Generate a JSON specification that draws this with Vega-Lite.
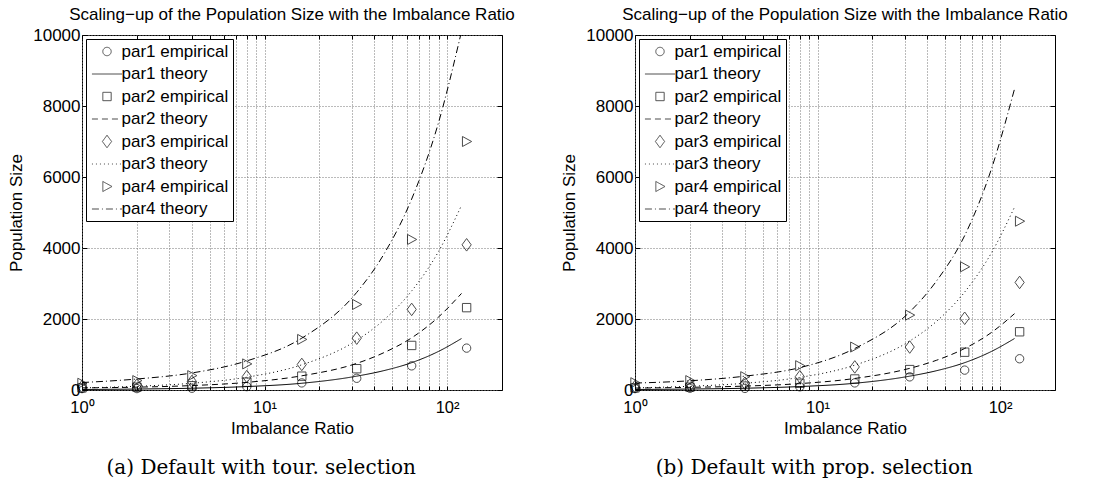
{
  "$schema": "https://vega.github.io/schema/vega-lite/v6.json",
  "background": "white",
  "padding": {"left": 7, "top": 5, "right": 0, "bottom": 0},
  "datasets": {
    "pts": [
      {"panel":"a","series":"par1 empirical","ratio":1,"pop":40},
      {"panel":"a","series":"par1 empirical","ratio":2,"pop":40},
      {"panel":"a","series":"par1 empirical","ratio":4,"pop":50},
      {"panel":"a","series":"par1 empirical","ratio":8,"pop":95},
      {"panel":"a","series":"par1 empirical","ratio":16,"pop":200},
      {"panel":"a","series":"par1 empirical","ratio":32,"pop":330},
      {"panel":"a","series":"par1 empirical","ratio":64,"pop":680},
      {"panel":"a","series":"par1 empirical","ratio":128,"pop":1180},
      {"panel":"a","series":"par2 empirical","ratio":1,"pop":60},
      {"panel":"a","series":"par2 empirical","ratio":2,"pop":80},
      {"panel":"a","series":"par2 empirical","ratio":4,"pop":120},
      {"panel":"a","series":"par2 empirical","ratio":8,"pop":220},
      {"panel":"a","series":"par2 empirical","ratio":16,"pop":390},
      {"panel":"a","series":"par2 empirical","ratio":32,"pop":600},
      {"panel":"a","series":"par2 empirical","ratio":64,"pop":1255},
      {"panel":"a","series":"par2 empirical","ratio":128,"pop":2320},
      {"panel":"a","series":"par3 empirical","ratio":1,"pop":95},
      {"panel":"a","series":"par3 empirical","ratio":2,"pop":140},
      {"panel":"a","series":"par3 empirical","ratio":4,"pop":240},
      {"panel":"a","series":"par3 empirical","ratio":8,"pop":380},
      {"panel":"a","series":"par3 empirical","ratio":16,"pop":720},
      {"panel":"a","series":"par3 empirical","ratio":32,"pop":1460},
      {"panel":"a","series":"par3 empirical","ratio":64,"pop":2270},
      {"panel":"a","series":"par3 empirical","ratio":128,"pop":4090},
      {"panel":"a","series":"par4 empirical","ratio":1,"pop":190},
      {"panel":"a","series":"par4 empirical","ratio":2,"pop":265},
      {"panel":"a","series":"par4 empirical","ratio":4,"pop":405},
      {"panel":"a","series":"par4 empirical","ratio":8,"pop":735},
      {"panel":"a","series":"par4 empirical","ratio":16,"pop":1425},
      {"panel":"a","series":"par4 empirical","ratio":32,"pop":2410},
      {"panel":"a","series":"par4 empirical","ratio":64,"pop":4240},
      {"panel":"a","series":"par4 empirical","ratio":128,"pop":7000},
      {"panel":"b","series":"par1 empirical","ratio":1,"pop":40},
      {"panel":"b","series":"par1 empirical","ratio":2,"pop":50},
      {"panel":"b","series":"par1 empirical","ratio":4,"pop":45},
      {"panel":"b","series":"par1 empirical","ratio":8,"pop":90},
      {"panel":"b","series":"par1 empirical","ratio":16,"pop":200},
      {"panel":"b","series":"par1 empirical","ratio":32,"pop":370},
      {"panel":"b","series":"par1 empirical","ratio":64,"pop":560},
      {"panel":"b","series":"par1 empirical","ratio":128,"pop":880},
      {"panel":"b","series":"par2 empirical","ratio":1,"pop":60},
      {"panel":"b","series":"par2 empirical","ratio":2,"pop":80},
      {"panel":"b","series":"par2 empirical","ratio":4,"pop":110},
      {"panel":"b","series":"par2 empirical","ratio":8,"pop":190},
      {"panel":"b","series":"par2 empirical","ratio":16,"pop":310},
      {"panel":"b","series":"par2 empirical","ratio":32,"pop":575},
      {"panel":"b","series":"par2 empirical","ratio":64,"pop":1065},
      {"panel":"b","series":"par2 empirical","ratio":128,"pop":1640},
      {"panel":"b","series":"par3 empirical","ratio":1,"pop":95},
      {"panel":"b","series":"par3 empirical","ratio":2,"pop":140},
      {"panel":"b","series":"par3 empirical","ratio":4,"pop":190},
      {"panel":"b","series":"par3 empirical","ratio":8,"pop":375},
      {"panel":"b","series":"par3 empirical","ratio":16,"pop":650},
      {"panel":"b","series":"par3 empirical","ratio":32,"pop":1210},
      {"panel":"b","series":"par3 empirical","ratio":64,"pop":2020},
      {"panel":"b","series":"par3 empirical","ratio":128,"pop":3030},
      {"panel":"b","series":"par4 empirical","ratio":1,"pop":205},
      {"panel":"b","series":"par4 empirical","ratio":2,"pop":265},
      {"panel":"b","series":"par4 empirical","ratio":4,"pop":375},
      {"panel":"b","series":"par4 empirical","ratio":8,"pop":685},
      {"panel":"b","series":"par4 empirical","ratio":16,"pop":1210},
      {"panel":"b","series":"par4 empirical","ratio":32,"pop":2110},
      {"panel":"b","series":"par4 empirical","ratio":64,"pop":3470},
      {"panel":"b","series":"par4 empirical","ratio":128,"pop":4755}
    ],
    "theory": [
      {"panel":"a","series":"par1 theory","ratio":1,"pop":15},
      {"panel":"a","series":"par1 theory","ratio":2,"pop":27},
      {"panel":"a","series":"par1 theory","ratio":4,"pop":50},
      {"panel":"a","series":"par1 theory","ratio":8,"pop":97},
      {"panel":"a","series":"par1 theory","ratio":16,"pop":190},
      {"panel":"a","series":"par1 theory","ratio":32,"pop":390},
      {"panel":"a","series":"par1 theory","ratio":45,"pop":545},
      {"panel":"a","series":"par1 theory","ratio":64,"pop":770},
      {"panel":"a","series":"par1 theory","ratio":90,"pop":1090},
      {"panel":"a","series":"par1 theory","ratio":120,"pop":1450},
      {"panel":"a","series":"par2 theory","ratio":1,"pop":60},
      {"panel":"a","series":"par2 theory","ratio":2,"pop":80},
      {"panel":"a","series":"par2 theory","ratio":4,"pop":125},
      {"panel":"a","series":"par2 theory","ratio":8,"pop":215},
      {"panel":"a","series":"par2 theory","ratio":16,"pop":400},
      {"panel":"a","series":"par2 theory","ratio":32,"pop":750},
      {"panel":"a","series":"par2 theory","ratio":45,"pop":1050},
      {"panel":"a","series":"par2 theory","ratio":64,"pop":1470},
      {"panel":"a","series":"par2 theory","ratio":90,"pop":2060},
      {"panel":"a","series":"par2 theory","ratio":120,"pop":2720},
      {"panel":"a","series":"par3 theory","ratio":1,"pop":60},
      {"panel":"a","series":"par3 theory","ratio":2,"pop":105},
      {"panel":"a","series":"par3 theory","ratio":4,"pop":190},
      {"panel":"a","series":"par3 theory","ratio":8,"pop":360},
      {"panel":"a","series":"par3 theory","ratio":16,"pop":710},
      {"panel":"a","series":"par3 theory","ratio":32,"pop":1400},
      {"panel":"a","series":"par3 theory","ratio":45,"pop":1970},
      {"panel":"a","series":"par3 theory","ratio":64,"pop":2790},
      {"panel":"a","series":"par3 theory","ratio":90,"pop":3910},
      {"panel":"a","series":"par3 theory","ratio":120,"pop":5200},
      {"panel":"a","series":"par4 theory","ratio":1,"pop":210},
      {"panel":"a","series":"par4 theory","ratio":2,"pop":310},
      {"panel":"a","series":"par4 theory","ratio":4,"pop":480},
      {"panel":"a","series":"par4 theory","ratio":8,"pop":820},
      {"panel":"a","series":"par4 theory","ratio":16,"pop":1460},
      {"panel":"a","series":"par4 theory","ratio":32,"pop":2750},
      {"panel":"a","series":"par4 theory","ratio":45,"pop":3820},
      {"panel":"a","series":"par4 theory","ratio":64,"pop":5380},
      {"panel":"a","series":"par4 theory","ratio":90,"pop":7550},
      {"panel":"a","series":"par4 theory","ratio":120,"pop":10100},
      {"panel":"b","series":"par1 theory","ratio":1,"pop":15},
      {"panel":"b","series":"par1 theory","ratio":2,"pop":27},
      {"panel":"b","series":"par1 theory","ratio":4,"pop":50},
      {"panel":"b","series":"par1 theory","ratio":8,"pop":97},
      {"panel":"b","series":"par1 theory","ratio":16,"pop":190},
      {"panel":"b","series":"par1 theory","ratio":32,"pop":390},
      {"panel":"b","series":"par1 theory","ratio":45,"pop":545},
      {"panel":"b","series":"par1 theory","ratio":64,"pop":770},
      {"panel":"b","series":"par1 theory","ratio":90,"pop":1090},
      {"panel":"b","series":"par1 theory","ratio":120,"pop":1450},
      {"panel":"b","series":"par2 theory","ratio":1,"pop":55},
      {"panel":"b","series":"par2 theory","ratio":2,"pop":75},
      {"panel":"b","series":"par2 theory","ratio":4,"pop":110},
      {"panel":"b","series":"par2 theory","ratio":8,"pop":180},
      {"panel":"b","series":"par2 theory","ratio":16,"pop":325},
      {"panel":"b","series":"par2 theory","ratio":32,"pop":610},
      {"panel":"b","series":"par2 theory","ratio":45,"pop":840},
      {"panel":"b","series":"par2 theory","ratio":64,"pop":1170},
      {"panel":"b","series":"par2 theory","ratio":90,"pop":1625},
      {"panel":"b","series":"par2 theory","ratio":120,"pop":2150},
      {"panel":"b","series":"par3 theory","ratio":1,"pop":60},
      {"panel":"b","series":"par3 theory","ratio":2,"pop":105},
      {"panel":"b","series":"par3 theory","ratio":4,"pop":190},
      {"panel":"b","series":"par3 theory","ratio":8,"pop":355},
      {"panel":"b","series":"par3 theory","ratio":16,"pop":700},
      {"panel":"b","series":"par3 theory","ratio":32,"pop":1380},
      {"panel":"b","series":"par3 theory","ratio":45,"pop":1940},
      {"panel":"b","series":"par3 theory","ratio":64,"pop":2760},
      {"panel":"b","series":"par3 theory","ratio":90,"pop":3875},
      {"panel":"b","series":"par3 theory","ratio":120,"pop":5150},
      {"panel":"b","series":"par4 theory","ratio":1,"pop":195},
      {"panel":"b","series":"par4 theory","ratio":2,"pop":260},
      {"panel":"b","series":"par4 theory","ratio":4,"pop":390},
      {"panel":"b","series":"par4 theory","ratio":8,"pop":630},
      {"panel":"b","series":"par4 theory","ratio":16,"pop":1170},
      {"panel":"b","series":"par4 theory","ratio":32,"pop":2200},
      {"panel":"b","series":"par4 theory","ratio":45,"pop":3080},
      {"panel":"b","series":"par4 theory","ratio":64,"pop":4350},
      {"panel":"b","series":"par4 theory","ratio":90,"pop":6250},
      {"panel":"b","series":"par4 theory","ratio":120,"pop":8480}
    ]
  },
  "spacing": 44,
  "resolve": {
    "scale": {"shape": "independent", "strokeDash": "independent"},
    "legend": {"shape": "independent", "strokeDash": "independent"}
  },
  "hconcat": [
    {
      "title": {"text": "(a) Default with tour. selection", "orient": "bottom", "font": "DejaVu Serif", "fontSize": 20, "fontWeight": "normal", "offset": 21, "anchor": "middle"},
      "resolve": {
        "scale": {"shape": "independent", "strokeDash": "independent"},
        "legend": {"shape": "independent", "strokeDash": "independent"}
      },
      "vconcat": [
        {
          "width": 420,
          "height": 355,
          "title": {"text": "Scaling−up of the Population Size with the Imbalance Ratio", "frame": "group", "anchor": "middle", "offset": 2},
          "resolve": {"axis": {"x": "independent", "y": "independent"}},
          "layer": [
            {
              "data": {"name": "theory"},
              "transform": [{"filter": "datum.panel == 'a'"}],
              "mark": {"type": "line", "color": "black", "strokeWidth": 1, "interpolate": "monotone", "clip": true},
              "encoding": {
                "x": {"field": "ratio", "type": "quantitative", "scale": {"type": "log", "domain": [1, 200], "nice": false},
                  "axis": {"orient": "bottom", "values": [1,2,3,4,5,6,7,8,9,10,20,30,40,50,60,70,80,90,100], "labelExpr": "datum.value == 1 ? '10⁰' : datum.value == 10 ? '10¹' : datum.value == 100 ? '10²' : ''", "labelFlush": false, "grid": false, "tickSize": -4, "labelPadding": 13, "title": "Imbalance Ratio", "titlePadding": 5, "labelOverlap": false}},
                "y": {"field": "pop", "type": "quantitative", "scale": {"domain": [0, 10000], "nice": false},
                  "axis": {"orient": "left", "values": [0,2000,4000,6000,8000,10000], "format": "d", "labelFlush": false, "labelFontSize": 17, "grid": true, "tickSize": -5, "labelPadding": 7, "title": "Population Size", "titlePadding": 7}},
                "strokeDash": {"field": "series", "type": "nominal",
                  "scale": {"domain": ["par1 empirical","par1 theory","par2 empirical","par2 theory","par3 empirical","par3 theory","par4 empirical","par4 theory"],
                    "range": [[1,0],[1,0],[1,0],[6,4],[1,0],[1,3],[1,0],[7,3,1,3]]},
                  "legend": {"title": null}}
              }
            },
            {
              "data": {"name": "pts"},
              "transform": [{"filter": "datum.panel == 'a'"}],
              "mark": {"type": "point", "filled": false, "color": "black", "strokeWidth": 1, "size": 70},
              "encoding": {
                "x": {"field": "ratio", "type": "quantitative",
                  "axis": {"orient": "top", "values": [1,2,3,4,5,6,7,8,9,10,20,30,40,50,60,70,80,90,100], "labels": false, "grid": true, "tickSize": -4, "title": null}},
                "y": {"field": "pop", "type": "quantitative",
                  "axis": {"orient": "right", "values": [0,2000,4000,6000,8000,10000], "labels": false, "grid": false, "tickSize": -5, "title": null}},
                "shape": {"field": "series", "type": "nominal",
                  "scale": {"domain": ["par1 empirical","par1 theory","par2 empirical","par2 theory","par3 empirical","par3 theory","par4 empirical","par4 theory"],
                    "range": ["circle","M-3.6,0H3.6","square","M-3.6,0H3.6","M0,-1.5L1.1,0L0,1.5L-1.1,0Z","M-3.6,0H3.6","M-1,-1.2L1.2,0L-1,1.2Z","M-3.6,0H3.6"]},
                  "legend": {"title": null}}
              }
            }
          ]
        }
      ]
    },
    {
      "title": {"text": "(b) Default with prop. selection", "orient": "bottom", "font": "DejaVu Serif", "fontSize": 20, "fontWeight": "normal", "offset": 21, "anchor": "middle"},
      "resolve": {
        "scale": {"shape": "independent", "strokeDash": "independent"},
        "legend": {"shape": "independent", "strokeDash": "independent"}
      },
      "vconcat": [
        {
          "width": 420,
          "height": 355,
          "title": {"text": "Scaling−up of the Population Size with the Imbalance Ratio", "frame": "group", "anchor": "middle", "offset": 2},
          "resolve": {"axis": {"x": "independent", "y": "independent"}},
          "layer": [
            {
              "data": {"name": "theory"},
              "transform": [{"filter": "datum.panel == 'b'"}],
              "mark": {"type": "line", "color": "black", "strokeWidth": 1, "interpolate": "monotone", "clip": true},
              "encoding": {
                "x": {"field": "ratio", "type": "quantitative", "scale": {"type": "log", "domain": [1, 200], "nice": false},
                  "axis": {"orient": "bottom", "values": [1,2,3,4,5,6,7,8,9,10,20,30,40,50,60,70,80,90,100], "labelExpr": "datum.value == 1 ? '10⁰' : datum.value == 10 ? '10¹' : datum.value == 100 ? '10²' : ''", "labelFlush": false, "grid": false, "tickSize": -4, "labelPadding": 13, "title": "Imbalance Ratio", "titlePadding": 5, "labelOverlap": false}},
                "y": {"field": "pop", "type": "quantitative", "scale": {"domain": [0, 10000], "nice": false},
                  "axis": {"orient": "left", "values": [0,2000,4000,6000,8000,10000], "format": "d", "labelFlush": false, "labelFontSize": 17, "grid": true, "tickSize": -5, "labelPadding": 7, "title": "Population Size", "titlePadding": 7}},
                "strokeDash": {"field": "series", "type": "nominal",
                  "scale": {"domain": ["par1 empirical","par1 theory","par2 empirical","par2 theory","par3 empirical","par3 theory","par4 empirical","par4 theory"],
                    "range": [[1,0],[1,0],[1,0],[6,4],[1,0],[1,3],[1,0],[7,3,1,3]]},
                  "legend": {"title": null}}
              }
            },
            {
              "data": {"name": "pts"},
              "transform": [{"filter": "datum.panel == 'b'"}],
              "mark": {"type": "point", "filled": false, "color": "black", "strokeWidth": 1, "size": 70},
              "encoding": {
                "x": {"field": "ratio", "type": "quantitative",
                  "axis": {"orient": "top", "values": [1,2,3,4,5,6,7,8,9,10,20,30,40,50,60,70,80,90,100], "labels": false, "grid": true, "tickSize": -4, "title": null}},
                "y": {"field": "pop", "type": "quantitative",
                  "axis": {"orient": "right", "values": [0,2000,4000,6000,8000,10000], "labels": false, "grid": false, "tickSize": -5, "title": null}},
                "shape": {"field": "series", "type": "nominal",
                  "scale": {"domain": ["par1 empirical","par1 theory","par2 empirical","par2 theory","par3 empirical","par3 theory","par4 empirical","par4 theory"],
                    "range": ["circle","M-3.6,0H3.6","square","M-3.6,0H3.6","M0,-1.5L1.1,0L0,1.5L-1.1,0Z","M-3.6,0H3.6","M-1,-1.2L1.2,0L-1,1.2Z","M-3.6,0H3.6"]},
                  "legend": {"title": null}}
              }
            }
          ]
        }
      ]
    }
  ],
  "config": {
    "view": {"stroke": "black", "strokeWidth": 1},
    "title": {"font": "Liberation Sans", "fontSize": 17, "fontWeight": "normal", "color": "black"},
    "axis": {"domain": false, "labelFont": "Liberation Sans", "titleFont": "Liberation Sans", "labelFontSize": 16.5, "titleFontSize": 17, "titleFontWeight": "normal", "labelColor": "black", "titleColor": "black", "tickColor": "black", "gridColor": "#777", "gridDash": [1, 2], "gridWidth": 1},
    "legend": {"orient": "top-left", "offset": 4, "strokeColor": "black", "fillColor": "white", "padding": 4, "labelFont": "Liberation Sans", "labelFontSize": 17, "labelColor": "black", "symbolStrokeColor": "black", "symbolStrokeWidth": 1, "symbolFillColor": "transparent", "symbolSize": 70, "symbolOffset": 8.5, "rowPadding": 4.5, "labelOffset": 6}
  }
}
